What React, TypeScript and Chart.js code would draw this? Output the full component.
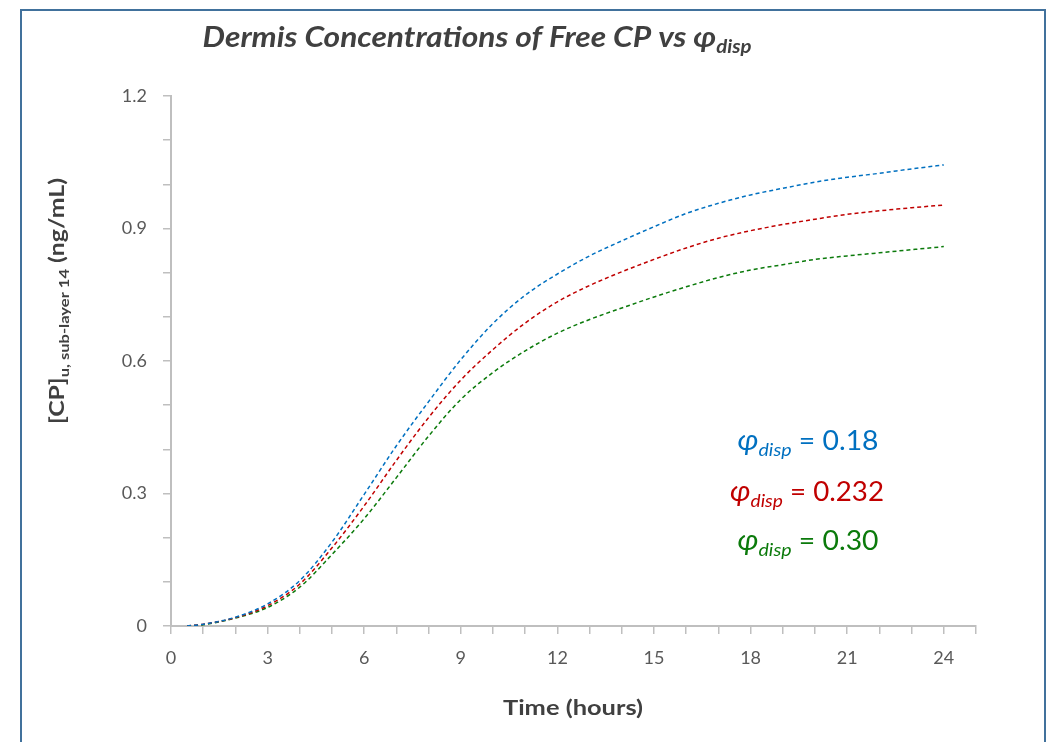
import { useEffect, useRef } from 'react';
import { Chart, registerables } from 'chart.js';
Chart.register(...registerables);

const hours = [0.5, 1, 2, 3, 4, 5, 6, 7, 8, 9, 10, 11, 12, 13, 14, 15, 16, 17, 18, 19, 20, 21, 22, 23, 24];
const phi018 = [0, 0.004, 0.02, 0.05, 0.103, 0.19, 0.298, 0.408, 0.508, 0.603, 0.685, 0.749, 0.797, 0.838, 0.872, 0.904, 0.934, 0.957, 0.976, 0.991, 1.005, 1.016, 1.025, 1.035, 1.044];
const phi0232 = [0, 0.004, 0.019, 0.046, 0.095, 0.177, 0.272, 0.375, 0.472, 0.557, 0.626, 0.686, 0.734, 0.771, 0.802, 0.83, 0.856, 0.878, 0.895, 0.909, 0.921, 0.932, 0.94, 0.947, 0.953];
const phi030 = [0, 0.003, 0.018, 0.042, 0.088, 0.162, 0.243, 0.336, 0.43, 0.513, 0.574, 0.623, 0.663, 0.694, 0.72, 0.745, 0.768, 0.789, 0.806, 0.818, 0.83, 0.838, 0.845, 0.852, 0.859];
const seriesValues = ['0.18', '0.232', '0.30'];
const seriesColors = ['#0070C0', '#C00000', '#0B7A0B'];
const xTickLabels = ['0', '3', '6', '9', '12', '15', '18', '21', '24'];
const yTickLabels = ['0', '0.3', '0.6', '0.9', '1.2'];
const titleText = 'Dermis Concentrations of Free CP vs ';
const xTitle = 'Time (hours)';

const FONT = 'Lato, "Open Sans", sans-serif';

type Seg = { t: string; font: string; dy: number };

function drawRich(ctx: CanvasRenderingContext2D, segs: Seg[], cx: number, cy: number, color: string, targetWidth?: number, rotate?: number) {
  ctx.save();
  ctx.fillStyle = color;
  ctx.textBaseline = 'alphabetic';
  ctx.textAlign = 'left';
  const widths = segs.map((s) => { ctx.font = s.font; return ctx.measureText(s.t).width; });
  const total = widths.reduce((a, b) => a + b, 0);
  const sx = targetWidth ? targetWidth / total : 1;
  ctx.translate(cx, cy);
  if (rotate) ctx.rotate(rotate);
  ctx.scale(sx, 1);
  let x = -total / 2;
  segs.forEach((s, i) => {
    ctx.font = s.font;
    ctx.fillText(s.t, x, s.dy);
    x += widths[i];
  });
  ctx.restore();
}

const textPlugin = {
  id: 'texts',
  afterDraw(chart: any) {
    const ctx = chart.ctx as CanvasRenderingContext2D;
    drawRich(ctx, [
      { t: titleText, font: `italic bold 28px ${FONT}`, dy: 0 },
      { t: 'φ', font: `italic bold 28px ${FONT}`, dy: 0 },
      { t: 'disp', font: `italic bold 18px ${FONT}`, dy: 6 },
    ], 477, 47, '#404040', 549);
    drawRich(ctx, [{ t: xTitle, font: `bold 21px ${FONT}`, dy: 0 }], 573, 715, '#404040', 140);
    drawRich(ctx, [
      { t: '[CP]', font: `bold 21px ${FONT}`, dy: 0 },
      { t: 'u, sub-layer 14', font: `bold 14px ${FONT}`, dy: 5 },
      { t: ' (ng/mL)', font: `bold 21px ${FONT}`, dy: 0 },
    ], 64, 301, '#404040', 246, -Math.PI / 2);
    const ys = [450, 501, 550];
    const widths = [141, 154, 141];
    const cxs = [808, 807, 808];
    seriesValues.forEach((v, i) => {
      drawRich(ctx, [
        { t: 'φ', font: `italic 28px ${FONT}`, dy: 0 },
        { t: 'disp', font: `italic 18px ${FONT}`, dy: 6 },
        { t: ' = ' + v, font: `26px ${FONT}`, dy: 0 },
      ], cxs[i], ys[i], seriesColors[i], widths[i]);
    });
  },
};

export default function App() {
  const ref = useRef<HTMLCanvasElement>(null);
  useEffect(() => {
    if (!ref.current) return;
    const mk = (vals: number[], i: number) => ({
      label: 'φdisp = ' + seriesValues[i],
      data: hours.map((h, j) => ({ x: h, y: vals[j] })),
      borderColor: seriesColors[i],
      backgroundColor: seriesColors[i],
      borderWidth: 1.5,
      borderDash: [4, 3],
      pointRadius: 0,
      cubicInterpolationMode: 'monotone',
      fill: false,
    });
    const chart = new Chart(ref.current, {
      type: 'line',
      data: { datasets: [mk(phi018, 0), mk(phi0232, 1), mk(phi030, 2)] },
      options: {
        animation: false,
        responsive: false,
        devicePixelRatio: 1,
        layout: { padding: { top: 96, right: 75, left: 0, bottom: 0 } },
        plugins: { legend: { display: false }, tooltip: { enabled: false }, title: { display: false } },
        scales: {
          x: {
            type: 'linear',
            min: 0,
            max: 25,
            afterFit: (s: any) => { s.height = 116; },
            ticks: {
              stepSize: 1,
              autoSkip: false,
              maxRotation: 0,
              padding: 13,
              color: '#595959',
              font: { family: FONT, size: 18 },
              callback: (v: any) => (v % 3 === 0 && v <= 24 ? xTickLabels[v / 3] : ''),
            },
            grid: { drawOnChartArea: false, drawTicks: true, tickLength: 8, color: '#BFBFBF', lineWidth: 1.5 },
            border: { display: true, color: '#BFBFBF', width: 2 },
          },
          y: {
            min: 0,
            max: 1.2,
            afterFit: (s: any) => { s.width = 171; },
            ticks: {
              stepSize: 0.1,
              autoSkip: false,
              padding: 16,
              color: '#595959',
              font: { family: FONT, size: 18 },
              callback: (v: any) => {
                const r = Math.round(v * 10);
                return r % 3 === 0 ? yTickLabels[r / 3] : '';
              },
            },
            grid: { drawOnChartArea: false, drawTicks: true, tickLength: 8, color: '#BFBFBF', lineWidth: 1.5 },
            border: { display: true, color: '#BFBFBF', width: 2 },
          },
        },
      },
      plugins: [textPlugin],
    } as any);
    return () => chart.destroy();
  }, []);
  return (
    <div style={{ position: 'fixed', left: 0, top: 0, width: 1051, height: 742, background: '#ffffff', overflow: 'hidden' }}>
      <div style={{ position: 'absolute', left: 20, top: 9, width: 1026, height: 760, border: '2px solid #41719C', boxSizing: 'border-box' }} />
      <canvas ref={ref} width={1051} height={742} style={{ position: 'absolute', left: 0, top: 0 }} />
    </div>
  );
}
